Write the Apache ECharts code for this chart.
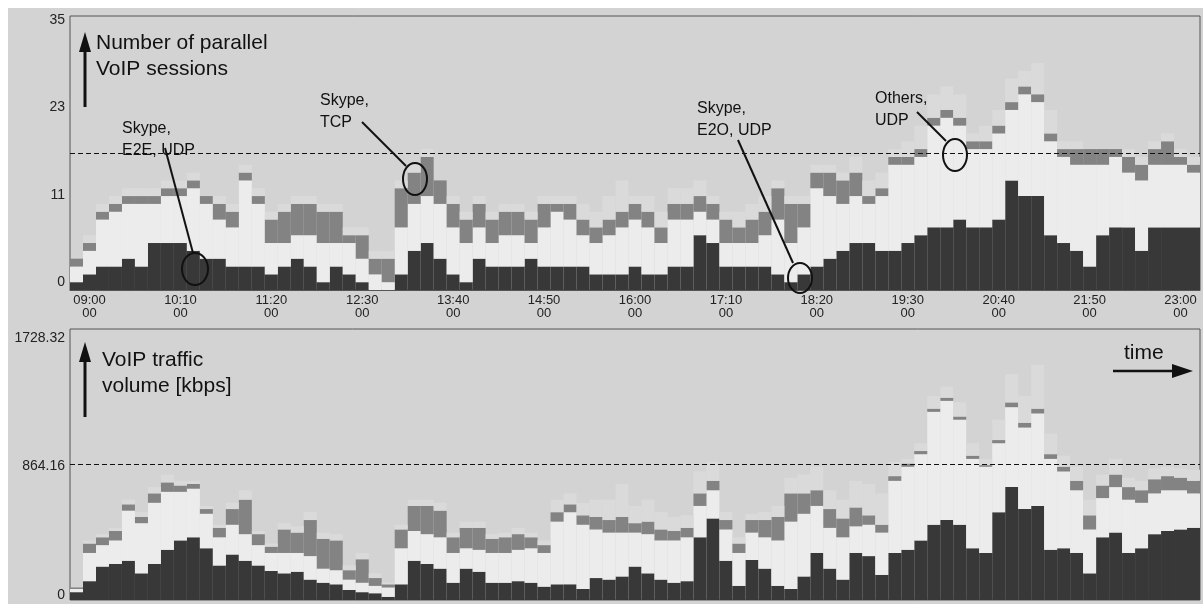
<!DOCTYPE html>
<html><head><meta charset="utf-8">
<script src="https://cdn.jsdelivr.net/npm/echarts@6/dist/echarts.min.js"></script>
<style>html,body{margin:0;padding:0;background:#fff}#c{width:1203px;height:604px}</style>
</head><body><div id="c"></div><script>
// time bins (10 min) from 08:50 to 23:10
const startTime = '08:50', endTime = '23:10', stepMin = 10;
const xTickLabels = ['09:00','10:10','11:20','12:30','13:40','14:50','16:00','17:10','18:20','19:30','20:40','21:50','23:00'];

// ---- Number of parallel VoIP sessions ----
const sessE2E = [1,2,3,3,4,3,6,6,6,5, 4,4,3,3,3,2,3,4,3,1, 3,2,1,0,0,2,5,6,4,2, 1,4,3,3,3,4,3,3,3,3,
  2,2,2,3,2,2,3,3,7,6, 3,3,3,3,2,1,2,3,4,5, 6,6,5,5,6,7,8,8,9,8, 8,9,14,12,12,7,6,5,3,7, 8,8,5,8,8,8,8];
const sessE2O = [2,3,6,7,7,8,5,6,6,8, 7,5,5,11,8,4,3,3,4,5, 3,4,3,2,1,6,6,6,7,6, 5,4,3,4,4,2,5,7,6,4,
  4,5,6,6,6,4,6,6,3,3, 3,3,3,4,7,5,6,10,8,6, 6,5,7,11,10,10,13,14,12,10, 10,11,9,13,12,12,11,11,13,9, 9,7,9,8,8,8,7];
const sessTCP = [1,1,1,1,1,1,1,1,1,1, 1,2,2,1,1,3,4,4,4,4, 4,1,3,2,3,5,4,5,3,3, 3,3,3,3,3,3,3,1,2,2,
  2,2,2,2,2,2,2,2,2,2, 3,2,3,3,4,5,3,2,3,3, 3,1,1,1,1,1,1,1,1,1, 1,1,1,1,1,1,1,2,2,2, 1,2,2,2,3,1,1];
const sessOthers = [0,1,1,1,1,1,1,1,1,1, 0,1,1,1,1,1,1,1,1,1, 1,1,1,1,1,1,1,1,0,1, 1,1,1,1,1,1,1,1,1,2,
  2,3,4,1,2,2,2,2,2,1, 1,2,2,2,1,1,1,1,1,1, 2,2,2,1,2,3,3,3,3,1, 2,2,3,2,4,3,1,1,0,0, 0,1,1,1,1,1,1];

// ---- VoIP traffic volume [kbps] ----
const kbpsE2E = [50,120,213,230,250,170,230,320,380,400, 330,220,290,250,220,185,170,180,130,110,
  100,64,50,43,20,100,250,230,200,110, 200,180,110,110,120,110,85,100,100,70,
  140,130,150,213,170,130,110,120,400,520, 250,90,255,200,90,70,150,300,200,130,
  300,280,160,300,320,380,480,510,480,330, 300,560,720,580,600,320,330,300,170,400, 430,300,330,420,440,450,460];
const kbpsE2O = [20,180,137,150,320,320,390,370,310,310, 220,180,190,170,130,115,130,120,150,90,
  90,66,60,47,60,230,190,190,200,190, 130,140,190,190,200,220,215,400,460,410,
  310,300,280,217,250,250,270,280,200,180, 200,210,175,200,290,430,400,300,260,270,
  170,200,270,460,530,550,720,760,670,570, 550,440,510,520,590,580,490,400,280,250, 290,340,290,260,260,250,220];
const kbpsTCP = [10,60,50,60,40,40,60,60,40,30, 30,60,100,220,70,40,150,130,230,190,
  190,60,150,50,20,120,160,180,170,100, 130,140,90,100,100,70,50,60,50,60,
  80,80,100,60,80,70,60,60,80,60, 60,60,80,110,150,180,130,100,120,120,
  120,60,50,30,20,20,20,20,20,20, 10,20,30,30,30,30,30,60,90,80, 80,80,80,90,90,80,80];
const kbpsOthers = [0,20,20,20,30,30,40,50,30,20, 20,20,40,60,20,20,40,40,50,40,
  40,30,40,30,10,30,40,40,50,30, 40,40,30,30,40,30,30,80,70,80,
  110,130,210,110,140,110,90,80,140,120, 50,40,40,50,70,100,120,150,120,120,
  170,200,200,90,30,50,80,70,90,80, 40,130,180,170,280,130,70,90,100,70, 100,60,60,70,60,60,70];

const topMax = 35, topDashed = 17.5;
const topTickValues = [0, 35/3, 70/3, 35];
const topTickLabels = ['0','11','23','35'];
const botMax = 1728.32, botDashed = 864.16;
const botTickValues = [0, 864.16, 1728.32];
const botTickLabels = ['0','864.16','1728.32'];

function toMin(s){const p=s.split(':');return (+p[0])*60+(+p[1]);}
function pad(n){return (n<10?'0':'')+n;}
const categories = [];
for (let m = toMin(startTime); m <= toMin(endTime); m += stepMin) categories.push(pad(Math.floor(m/60))+':'+pad(m%60));

const FONT = 'Liberation Sans, Arial, sans-serif';
const C_DARK = '#383838', C_E2O = '#ececec', C_TCP = '#838383', C_OTH = '#dadada';

function labelFmt(vals, labs){
  return function(v){ let best=0; for (let i=1;i<vals.length;i++) if (Math.abs(vals[i]-v)<Math.abs(vals[best]-v)) best=i; return labs[best]; };
}
function stackSeries(names, datas, colors, xi, yi, stackId, dashed){
  return datas.map((d, k) => {
    const s = {
      name: names[k], type: 'bar', stack: stackId, xAxisIndex: xi, yAxisIndex: yi,
      data: d, barCategoryGap: '0%', barGap: '0%', itemStyle: {color: colors[k]},
      silent: true, animation: false
    };
    if (k === datas.length - 1) {
      s.markLine = {silent: true, symbol: 'none', label: {show: false}, animation: false,
        lineStyle: {color: '#111', type: [5, 3], width: 1}, data: [{yAxis: dashed}]};
    }
    return s;
  });
}
const names = ['Skype, E2E, UDP','Skype, E2O, UDP','Skype, TCP','Others, UDP'];
const colors = [C_DARK, C_E2O, C_TCP, C_OTH];

const chart = echarts.init(document.getElementById('c'), null, {renderer: 'canvas'});
const txt = {fontFamily: FONT, fill: '#111'};
const option = {
  backgroundColor: '#d3d3d3',
  animation: false,
  grid: [
    {left: 70, right: 3, top: 16, height: 274, show: true, borderColor: '#555', borderWidth: 1, backgroundColor: 'transparent', containLabel: false, outerBoundsMode: 'none'},
    {left: 70, right: 3, top: 329, height: 271, show: true, borderColor: '#555', borderWidth: 1, backgroundColor: 'transparent', containLabel: false, outerBoundsMode: 'none'}
  ],
  xAxis: [
    {type: 'category', gridIndex: 0, data: categories, boundaryGap: true,
      axisLine: {show: true, lineStyle: {color: '#555'}}, axisTick: {show: false},
      axisLabel: {interval: (i, v) => xTickLabels.indexOf(v) >= 0, formatter: v => v + '\n00',
        fontFamily: FONT, fontSize: 13, lineHeight: 13, color: '#222', margin: 4}},
    {type: 'category', gridIndex: 1, data: categories, boundaryGap: true,
      axisLine: {show: false}, axisTick: {show: false}, axisLabel: {show: false}}
  ],
  yAxis: [
    {type: 'value', gridIndex: 0, position: 'left', min: 0, max: topMax, show: false, splitLine: {show: false}},
    {type: 'value', gridIndex: 0, position: 'left', min: -1.07, max: 35.53, axisLine: {show: false}, axisTick: {show: false}, splitLine: {show: false},
      axisLabel: {customValues: topTickValues, formatter: labelFmt(topTickValues, topTickLabels), fontFamily: FONT, fontSize: 14, color: '#222', margin: 5}},
    {type: 'value', gridIndex: 1, position: 'left', min: 0, max: botMax, show: false, splitLine: {show: false}},
    {type: 'value', gridIndex: 1, position: 'left', min: -33.6, max: 1788.8, axisLine: {show: false}, axisTick: {show: false}, splitLine: {show: false},
      axisLabel: {customValues: botTickValues, formatter: labelFmt(botTickValues, botTickLabels), fontFamily: FONT, fontSize: 14, color: '#222', margin: 5}}
  ],
  series: [].concat(
    stackSeries(names, [sessE2E, sessE2O, sessTCP, sessOthers], colors, 0, 0, 'sess', topDashed),
    stackSeries(names, [kbpsE2E, kbpsE2O, kbpsTCP, kbpsOthers], colors, 1, 2, 'kbps', botDashed)
  ),
  graphic: [
    {type: 'rect', shape: {x: 0, y: 0, width: 1203, height: 8}, style: {fill: '#fff'}, z: 1},
    {type: 'rect', shape: {x: 0, y: 0, width: 8, height: 604}, style: {fill: '#fff'}, z: 1},
    // y-axis arrows and titles
    {type: 'line', shape: {x1: 85, y1: 107, x2: 85, y2: 50}, style: {stroke: '#111', lineWidth: 3}, z: 100},
    {type: 'polygon', shape: {points: [[85, 32], [79, 52], [91, 52]]}, style: {fill: '#111'}, z: 100},
    {type: 'text', x: 96, y: 30, style: Object.assign({text: 'Number of parallel\nVoIP sessions', fontSize: 21, lineHeight: 26}, txt), z: 100},
    {type: 'line', shape: {x1: 85, y1: 417, x2: 85, y2: 360}, style: {stroke: '#111', lineWidth: 3}, z: 100},
    {type: 'polygon', shape: {points: [[85, 342], [79, 362], [91, 362]]}, style: {fill: '#111'}, z: 100},
    {type: 'text', x: 102, y: 347, style: Object.assign({text: 'VoIP traffic\nvolume [kbps]', fontSize: 21, lineHeight: 26}, txt), z: 100},
    {type: 'text', x: 1124, y: 343, style: Object.assign({text: 'time', fontSize: 21}, txt), z: 100},
    {type: 'line', shape: {x1: 1113, y1: 371, x2: 1176, y2: 371}, style: {stroke: '#111', lineWidth: 2.5}, z: 100},
    {type: 'polygon', shape: {points: [[1193, 371], [1172, 364], [1172, 378]]}, style: {fill: '#111'}, z: 100},
    // callouts
    {type: 'text', x: 122, y: 118, style: Object.assign({text: 'Skype,\nE2E, UDP', fontSize: 16, lineHeight: 22}, txt), z: 100},
    {type: 'line', shape: {x1: 165, y1: 148, x2: 193, y2: 253}, style: {stroke: '#111', lineWidth: 2}, z: 100},
    {type: 'ellipse', shape: {cx: 195, cy: 269, rx: 13, ry: 16}, style: {fill: 'none', stroke: '#111', lineWidth: 2}, z: 100},
    {type: 'text', x: 320, y: 90, style: Object.assign({text: 'Skype,\nTCP', fontSize: 16, lineHeight: 22}, txt), z: 100},
    {type: 'line', shape: {x1: 362, y1: 122, x2: 406, y2: 166}, style: {stroke: '#111', lineWidth: 2}, z: 100},
    {type: 'ellipse', shape: {cx: 415, cy: 179, rx: 12, ry: 16}, style: {fill: 'none', stroke: '#111', lineWidth: 2}, z: 100},
    {type: 'text', x: 697, y: 98, style: Object.assign({text: 'Skype,\nE2O, UDP', fontSize: 16, lineHeight: 22}, txt), z: 100},
    {type: 'line', shape: {x1: 738, y1: 140, x2: 793, y2: 263}, style: {stroke: '#111', lineWidth: 2}, z: 100},
    {type: 'ellipse', shape: {cx: 800, cy: 278, rx: 12, ry: 15}, style: {fill: 'none', stroke: '#111', lineWidth: 2}, z: 100},
    {type: 'text', x: 875, y: 88, style: Object.assign({text: 'Others,\nUDP', fontSize: 16, lineHeight: 22}, txt), z: 100},
    {type: 'line', shape: {x1: 917, y1: 112, x2: 946, y2: 141}, style: {stroke: '#111', lineWidth: 2}, z: 100},
    {type: 'ellipse', shape: {cx: 955, cy: 155, rx: 12, ry: 16}, style: {fill: 'none', stroke: '#111', lineWidth: 2}, z: 100}
  ]
};
chart.setOption(option);
</script></body></html>
